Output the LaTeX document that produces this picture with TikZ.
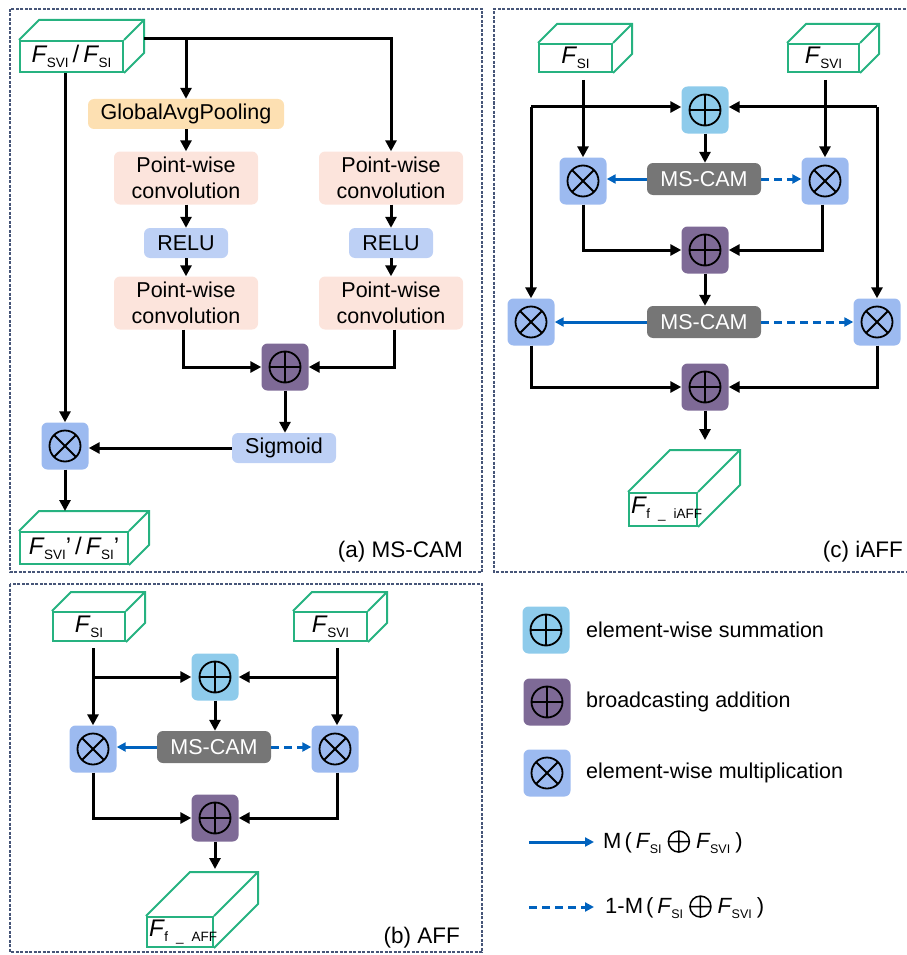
\documentclass[tikz,border=0pt]{standalone}
\usepackage{fontspec}
\setmainfont{Liberation Sans}
\usetikzlibrary{arrows.meta}
\definecolor{boxgreen}{RGB}{38,178,128}
\definecolor{gapor}{RGB}{253,224,178}
\definecolor{pwpink}{RGB}{252,228,220}
\definecolor{relublue}{RGB}{189,208,245}
\definecolor{multblue}{RGB}{156,186,240}
\definecolor{sumblue}{RGB}{142,203,235}
\definecolor{addpurple}{RGB}{126,106,150}
\definecolor{camgray}{RGB}{118,118,118}
\definecolor{arrowblue}{RGB}{0,98,190}
\definecolor{dashborder}{RGB}{70,85,120}
\newcommand\Fs[1]{\textit{F}\kern-0.5pt\raisebox{-5pt}{\fontsize{13.5}{14}\selectfont #1}}
\newcommand\Fsm[1]{\textit{F}\kern-0.5pt\raisebox{-5pt}{\fontsize{12.5}{13}\selectfont #1}}
\newcommand\oplussym{\tikz[x=1pt,y=1pt,baseline=-7pt]{\draw[line width=1.5pt] (0,0) circle (10.5pt) (-10.5,0) -- (10.5,0) (0,-10.5) -- (0,10.5);}}
\newcommand\cubefaces[2]{%
  \draw[cubeline] (#1.north west) -- ++(#2,-#2) -- ([shift={(#2,-#2)}]#1.north east)
     -- ([shift={(#2,-#2)}]#1.south east) -- (#1.south east)
     (#1.north east) -- ++(#2,-#2);}
\tikzset{
  cubeline/.style={draw=boxgreen, line width=2pt},
  cubefront/.style={draw=boxgreen, line width=2pt, fill=white, inner sep=0pt, font=\fontsize{24}{24}\selectfont},
  procbox/.style={rectangle, rounded corners=6pt, inner sep=0pt, font=\fontsize{21.5}{26}\selectfont, align=center},
  gapbox/.style={procbox, fill=gapor, minimum width=196pt, minimum height=30pt},
  pwbox/.style={procbox, fill=pwpink, minimum width=144pt, minimum height=53pt},
  relubox/.style={procbox, fill=relublue, minimum width=84pt, minimum height=30pt},
  sigbox/.style={procbox, fill=relublue, minimum width=104pt, minimum height=30pt},
  cambox/.style={procbox, fill=camgray, text=white, minimum width=114pt, minimum height=32pt},
  opbase/.style={rectangle, rounded corners=6pt, minimum size=47pt, inner sep=0pt},
  sumop/.style={opbase, fill=sumblue, path picture={
     \draw[line width=1.8pt] (path picture bounding box.center) circle (15.5pt);
     \draw[line width=1.8pt] ([xshift=-15.5pt]path picture bounding box.center) -- ([xshift=15.5pt]path picture bounding box.center);
     \draw[line width=1.8pt] ([yshift=-15.5pt]path picture bounding box.center) -- ([yshift=15.5pt]path picture bounding box.center);}},
  addop/.style={sumop, fill=addpurple},
  mulop/.style={opbase, fill=multblue, path picture={
     \draw[line width=1.8pt] (path picture bounding box.center) circle (15.5pt);
     \draw[line width=1.8pt] ([shift={(-11pt,-11pt)}]path picture bounding box.center) -- ([shift={(11pt,11pt)}]path picture bounding box.center);
     \draw[line width=1.8pt] ([shift={(-11pt,11pt)}]path picture bounding box.center) -- ([shift={(11pt,-11pt)}]path picture bounding box.center);}},
  arr/.style={line width=3pt, -{Triangle[length=11pt,width=11pt]}},
  barr/.style={line width=3pt, arrowblue, -{Triangle[length=9pt,width=9pt]}},
  dbarr/.style={barr, dash pattern=on 8pt off 5pt},
  panel/.style={draw=dashborder, line width=1.2pt, dash pattern=on 3pt off 1.5pt},
  lbl/.style={font=\fontsize{22.5}{24}\selectfont, anchor=base east, inner sep=0pt},
  legtxt/.style={font=\fontsize{21.5}{24}\selectfont, anchor=west, inner sep=0pt},
}
\begin{document}
\begin{tikzpicture}[x=1pt,y=-1pt]
\useasboundingbox (0,0) rectangle (906,955);
% panels
\draw[panel] (10,9) rectangle (482,572);
\draw[panel] (910,9) -- (494,9) -- (494,572) -- (910,572);
\draw[panel] (10,584) rectangle (482,952);

% ================= (a) MS-CAM =================
\node[cubefront, minimum width=103pt, minimum height=31pt] (inA) at (71.5,56.5) {\Fs{SVI}\,/\,\Fs{SI}};
\cubefaces{inA}{20}
\node[gapbox] (gap) at (186,114) {GlobalAvgPooling};
\node[pwbox] (pwL1) at (186,178) {Point-wise\\convolution};
\node[pwbox] (pwR1) at (391,178) {Point-wise\\convolution};
\node[relubox] (reL) at (186,243) {RELU};
\node[relubox] (reR) at (391,243) {RELU};
\node[pwbox] (pwL2) at (186,303) {Point-wise\\convolution};
\node[pwbox] (pwR2) at (391,303) {Point-wise\\convolution};
\node[addop] (addA) at (285,367) {};
\node[sigbox] (sig) at (284,448) {Sigmoid};
\node[mulop] (mulA) at (65,446) {};
\node[cubefront, minimum width=108pt, minimum height=32pt] (outA) at (74,548) {\Fs{SVI}'\,/\,\Fs{SI}'};
\cubefaces{outA}{20}
\coordinate (outAtop) at ([yshift=20pt]outA.north);
\node[lbl] (labA) at (463,557) {(a) MS-CAM};

\draw[arr] ([shift={(20pt,1pt)}]inA.north east) -| (pwR1.north);
\draw[arr] (gap.north |- inA.north) -- (gap.north);
\draw[arr] (inA.south -| mulA.north) -- (mulA.north);
\draw[arr] (gap) -- (pwL1);
\draw[arr] (pwL1) -- (reL);
\draw[arr] (reL) -- (pwL2);
\draw[arr] (pwR1) -- (reR);
\draw[arr] (reR) -- (pwR2);
\draw[arr] ([xshift=-3pt]pwL2.south) |- (addA.west);
\draw[arr] ([xshift=3pt]pwR2.south) |- (addA.east);
\draw[arr] (addA) -- (addA.south |- sig.north);
\draw[arr] (sig.west) -- (sig.west -| mulA.east);
\draw[arr] (mulA.south) -- (mulA.south |- outAtop);

% ================= (c) iAFF =================
\node[cubefront, minimum width=73pt, minimum height=28pt] (fsiC) at (575.5,58) {\Fs{SI}};
\cubefaces{fsiC}{19}
\node[cubefront, minimum width=71pt, minimum height=28pt] (fsvC) at (823.5,58) {\Fs{SVI}};
\cubefaces{fsvC}{19}
\node[sumop] (sumC) at (705,110) {};
\node[cambox] (camC1) at (704,179) {MS-CAM};
\node[mulop] (mulC1L) at (583,181) {};
\node[mulop] (mulC1R) at (825,181) {};
\node[addop] (addC1) at (705,250) {};
\node[cambox] (camC2) at (704,322) {MS-CAM};
\node[mulop] (mulC2L) at (531,322) {};
\node[mulop] (mulC2R) at (877,322) {};
\node[addop] (addC2) at (705,387) {};
\node[cubefront, minimum width=68pt, minimum height=33pt, text width=64pt, align=left] (outC) at (663,509.5) {\Fs{f \_ iAFF}};
\cubefaces{outC}{42}
\node[lbl] (labC) at (903,557) {(c) iAFF};

\draw[arr, shorten <=7pt] (fsiC.south -| mulC1L.north) -- (mulC1L.north);
\draw[arr, shorten <=7pt] (fsvC.south -| mulC1R.north) -- (mulC1R.north);
\draw[arr] ([yshift=3pt]sumC.west -| mulC2L.north) -- ([yshift=3pt]sumC.west);
\draw[arr] ([yshift=3pt]sumC.west -| mulC2L.north) -- (mulC2L.north);
\draw[arr] ([yshift=3pt]sumC.east -| mulC2R.north) -- ([yshift=3pt]sumC.east);
\draw[arr] ([yshift=3pt]sumC.east -| mulC2R.north) -- (mulC2R.north);
\draw[arr] (sumC) -- (sumC.south |- camC1.north);
\draw[barr] (camC1.west) -- (camC1.west -| mulC1L.east);
\draw[dbarr] (camC1.east) -- (camC1.east -| mulC1R.west);
\draw[arr] (mulC1L.south) |- (addC1.west);
\draw[arr] ([xshift=-3pt]mulC1R.south) |- (addC1.east);
\draw[arr] (addC1) -- (addC1.south |- camC2.north);
\draw[barr] (camC2.west) -- (camC2.west -| mulC2L.east);
\draw[dbarr] (camC2.east) -- (camC2.east -| mulC2R.west);
\draw[arr] (mulC2L.south) |- (addC2.west);
\draw[arr] (mulC2R.south) |- (addC2.east);
\draw[arr] (addC2.south) -- ([yshift=52pt]outC.north -| addC2.south);

% ================= (b) AFF =================
\node[cubefront, minimum width=72pt, minimum height=29pt] (fsiB) at (89,626.5) {\Fs{SI}};
\cubefaces{fsiB}{19}
\node[cubefront, minimum width=73pt, minimum height=29pt] (fsvB) at (330.5,626.5) {\Fs{SVI}};
\cubefaces{fsvB}{19}
\node[sumop] (sumB) at (215,677) {};
\node[cambox] (camB) at (214,747) {MS-CAM};
\node[mulop] (mulBL) at (93,749) {};
\node[mulop] (mulBR) at (335,749) {};
\node[addop] (addB) at (215,818) {};
\node[cubefront, minimum width=66pt, minimum height=30pt, text width=62pt, align=left] (outB) at (180,932) {\Fs{f \_ AFF}};
\cubefaces{outB}{44}
\node[lbl] (labB) at (460,943) {(b) AFF};

\draw[arr, shorten <=6pt] (fsiB.south -| mulBL.north) -- (mulBL.north);
\draw[arr, shorten <=6pt] ([xshift=2pt]fsvB.south -| mulBR.north) -- ([xshift=2pt]mulBR.north);
\draw[arr] (sumB.west -| mulBL.north) -- (sumB.west);
\draw[arr] ([xshift=2pt]sumB.east -| mulBR.north) -- (sumB.east);
\draw[arr] (sumB) -- (sumB.south |- camB.north);
\draw[barr] (camB.west) -- (camB.west -| mulBL.east);
\draw[dbarr] (camB.east) -- (camB.east -| mulBR.west);
\draw[arr] (mulBL.south) |- (addB.west);
\draw[arr] ([xshift=2pt]mulBR.south) |- (addB.east);
\draw[arr] (addB.south) -- ([yshift=47pt]outB.north -| addB.south);

% ================= legend =================
\node[sumop] (legSum) at (546,630) {};
\node[legtxt] (legSumT) at (586,630) {element-wise summation};
\node[addop] (legAdd) at (547,702) {};
\node[legtxt] (legAddT) at (586,702) {broadcasting addition};
\node[mulop] (legMul) at (547,773) {};
\node[legtxt] (legMulT) at (586,773) {element-wise multiplication};
\coordinate (ls1) at (529,842);
\coordinate (ls2) at (594,842);
\draw[barr] (ls1) -- (ls2);
\node[legtxt, font=\fontsize{22}{24}\selectfont] (legM) at (603,842) {M\kern3pt(\kern4pt\Fsm{SI}\kern6pt\oplussym\kern6pt\Fsm{SVI}\kern5pt)};
\coordinate (ld1) at (529,907);
\coordinate (ld2) at (594,907);
\draw[dbarr] (ld1) -- (ld2);
\node[legtxt, font=\fontsize{22}{24}\selectfont] (legM1) at (605,907) {1-M\kern3pt(\kern4pt\Fsm{SI}\kern6pt\oplussym\kern6pt\Fsm{SVI}\kern5pt)};
\end{tikzpicture}
\end{document}
